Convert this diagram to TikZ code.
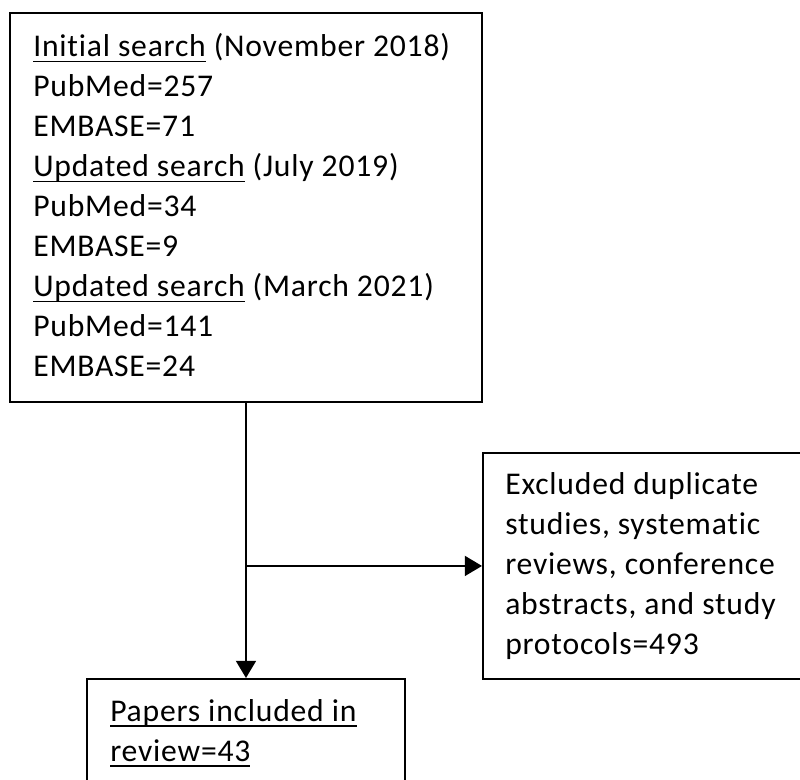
\documentclass[tikz,border=0pt]{standalone}
\usepackage{fontspec}
\setmainfont{Carlito}[Ligatures=NoCommon, LetterSpace=2.5]
\usetikzlibrary{positioning,arrows.meta}

\newcommand{\ulword}[1]{\setbox0=\hbox{#1}\rlap{\rule[-4.2pt]{\wd0}{1.2pt}}\box0\relax}

\begin{document}
\begin{tikzpicture}[x=0.025cm, y=-0.025cm,
    box/.style={draw, line width=1.3pt, inner sep=0pt, anchor=north west},
    txt/.style={inner sep=0pt, anchor=north west, align=left, font=\fontsize{22.5}{28.45}\selectfont},
    arr/.style={line width=1.3pt, -{Triangle[length=0.43cm, width=0.5cm]}}]
    \path[use as bounding box, clip] (0,0) rectangle (800,780);

    % Boxes
    \node[box, minimum width=11.8cm, minimum height=9.725cm] (search) at (9,12) {};
    \node[box, minimum width=8.45cm, minimum height=5.65cm] (excluded) at (482,452) {};
    \node[box, minimum width=7.95cm, minimum height=4cm] (included) at (86,678) {};

    % Texts
    \node[txt] (searchtxt) at ([shift={(24,21)}]search.north west) {%
        \ulword{Initial search} (November 2018)\\
        PubMed=257\\
        EMBASE=71\\
        \ulword{Updated search} (July 2019)\\
        PubMed=34\\
        EMBASE=9\\
        \ulword{Updated search} (March 2021)\\
        PubMed=141\\
        EMBASE=24};
    \node[txt] (excludedtxt) at ([shift={(23,20)}]excluded.north west) {%
        Excluded duplicate\\
        studies, systematic\\
        reviews, conference\\
        abstracts, and study\\
        protocols=493};
    \node[txt] (includedtxt) at ([shift={(24,21)}]included.north west) {%
        \ulword{Papers included in}\\
        \ulword{review=43}};

    % Arrows
    \coordinate (split) at (search.south |- excluded.west);
    \draw[arr] (search.south) -- (search.south |- included.north);
    \draw[arr] (split) -- (excluded.west);
\end{tikzpicture}
\end{document}
